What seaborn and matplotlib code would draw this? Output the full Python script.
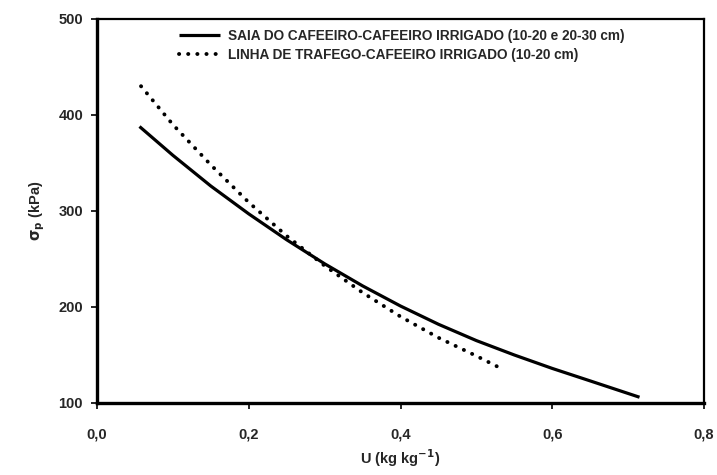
import matplotlib
matplotlib.use("Agg")
import matplotlib.pyplot as plt
import seaborn as sns
import pandas as pd

# Data
u_saia = [0.056, 0.10, 0.15, 0.20, 0.25, 0.30, 0.35, 0.40, 0.45, 0.50, 0.55, 0.60, 0.65, 0.715]
sp_saia = [388, 358, 326, 297, 270, 245, 222, 201, 182, 165, 150, 136, 123, 106]

u_linha = [0.058, 0.10, 0.15, 0.20, 0.25, 0.30, 0.35, 0.40, 0.45, 0.50, 0.53]
sp_linha = [430, 390, 348, 309, 274, 243, 215, 190, 168, 149, 137]

label_saia = "SAIA DO CAFEEIRO-CAFEEIRO IRRIGADO (10-20 e 20-30 cm)"
label_linha = "LINHA DE TRAFEGO-CAFEEIRO IRRIGADO (10-20 cm)"

x_ticks = [0.0, 0.2, 0.4, 0.6, 0.8]
x_ticklabels = ["0,0", "0,2", "0,4", "0,6", "0,8"]
y_ticks = [100, 200, 300, 400, 500]

df_saia = pd.DataFrame({"U": u_saia, "sp": sp_saia})
df_linha = pd.DataFrame({"U": u_linha, "sp": sp_linha})

sns.set_style("white")
plt.rcParams["font.family"] = ["Liberation Sans", "DejaVu Sans"]

fig = plt.figure(figsize=(7.17, 4.75), dpi=100)
ax = fig.add_axes([0.1353, 0.1516, 0.8466, 0.8084])

sns.lineplot(data=df_saia, x="U", y="sp", ax=ax, color="black", lw=2.3,
             label=label_saia, solid_capstyle="butt")
sns.lineplot(data=df_linha, x="U", y="sp", ax=ax, color="black", lw=2.8,
             linestyle=(0, (0.05, 2.3)), dash_capstyle="round", label=label_linha)

ax.set_xlim(0, 0.8)
ax.set_ylim(100, 500)
ax.set_xticks(x_ticks)
ax.set_xticklabels(x_ticklabels)
ax.set_yticks(y_ticks)

for lab in ax.get_xticklabels() + ax.get_yticklabels():
    lab.set_fontweight("bold")
    lab.set_fontsize(10.5)

ax.tick_params(axis="both", direction="out", length=4, width=1.2, color="black",
               pad=6, bottom=True, left=True)
ax.tick_params(axis="x", pad=14)

for side in ["left", "bottom"]:
    ax.spines[side].set_linewidth(2.4)
for side in ["top", "right"]:
    ax.spines[side].set_linewidth(1.6)
for s in ax.spines.values():
    s.set_color("black")

ax.set_xlabel("U (kg kg$^{\\mathbf{-1}}$)", fontsize=10.5, fontweight="bold", labelpad=4)
ax.set_ylabel("$\\mathbf{\\sigma_p}$ (kPa)", fontsize=10.5, fontweight="bold", labelpad=8)

leg = ax.legend(loc="upper left", bbox_to_anchor=(0.12, 1.0), frameon=False,
                handlelength=3.0, handletextpad=0.6, labelspacing=0.4,
                borderaxespad=0.3,
                prop={"family": ["Liberation Sans"], "weight": "bold", "size": 9.8})

fig.savefig("out.png", dpi=100)
